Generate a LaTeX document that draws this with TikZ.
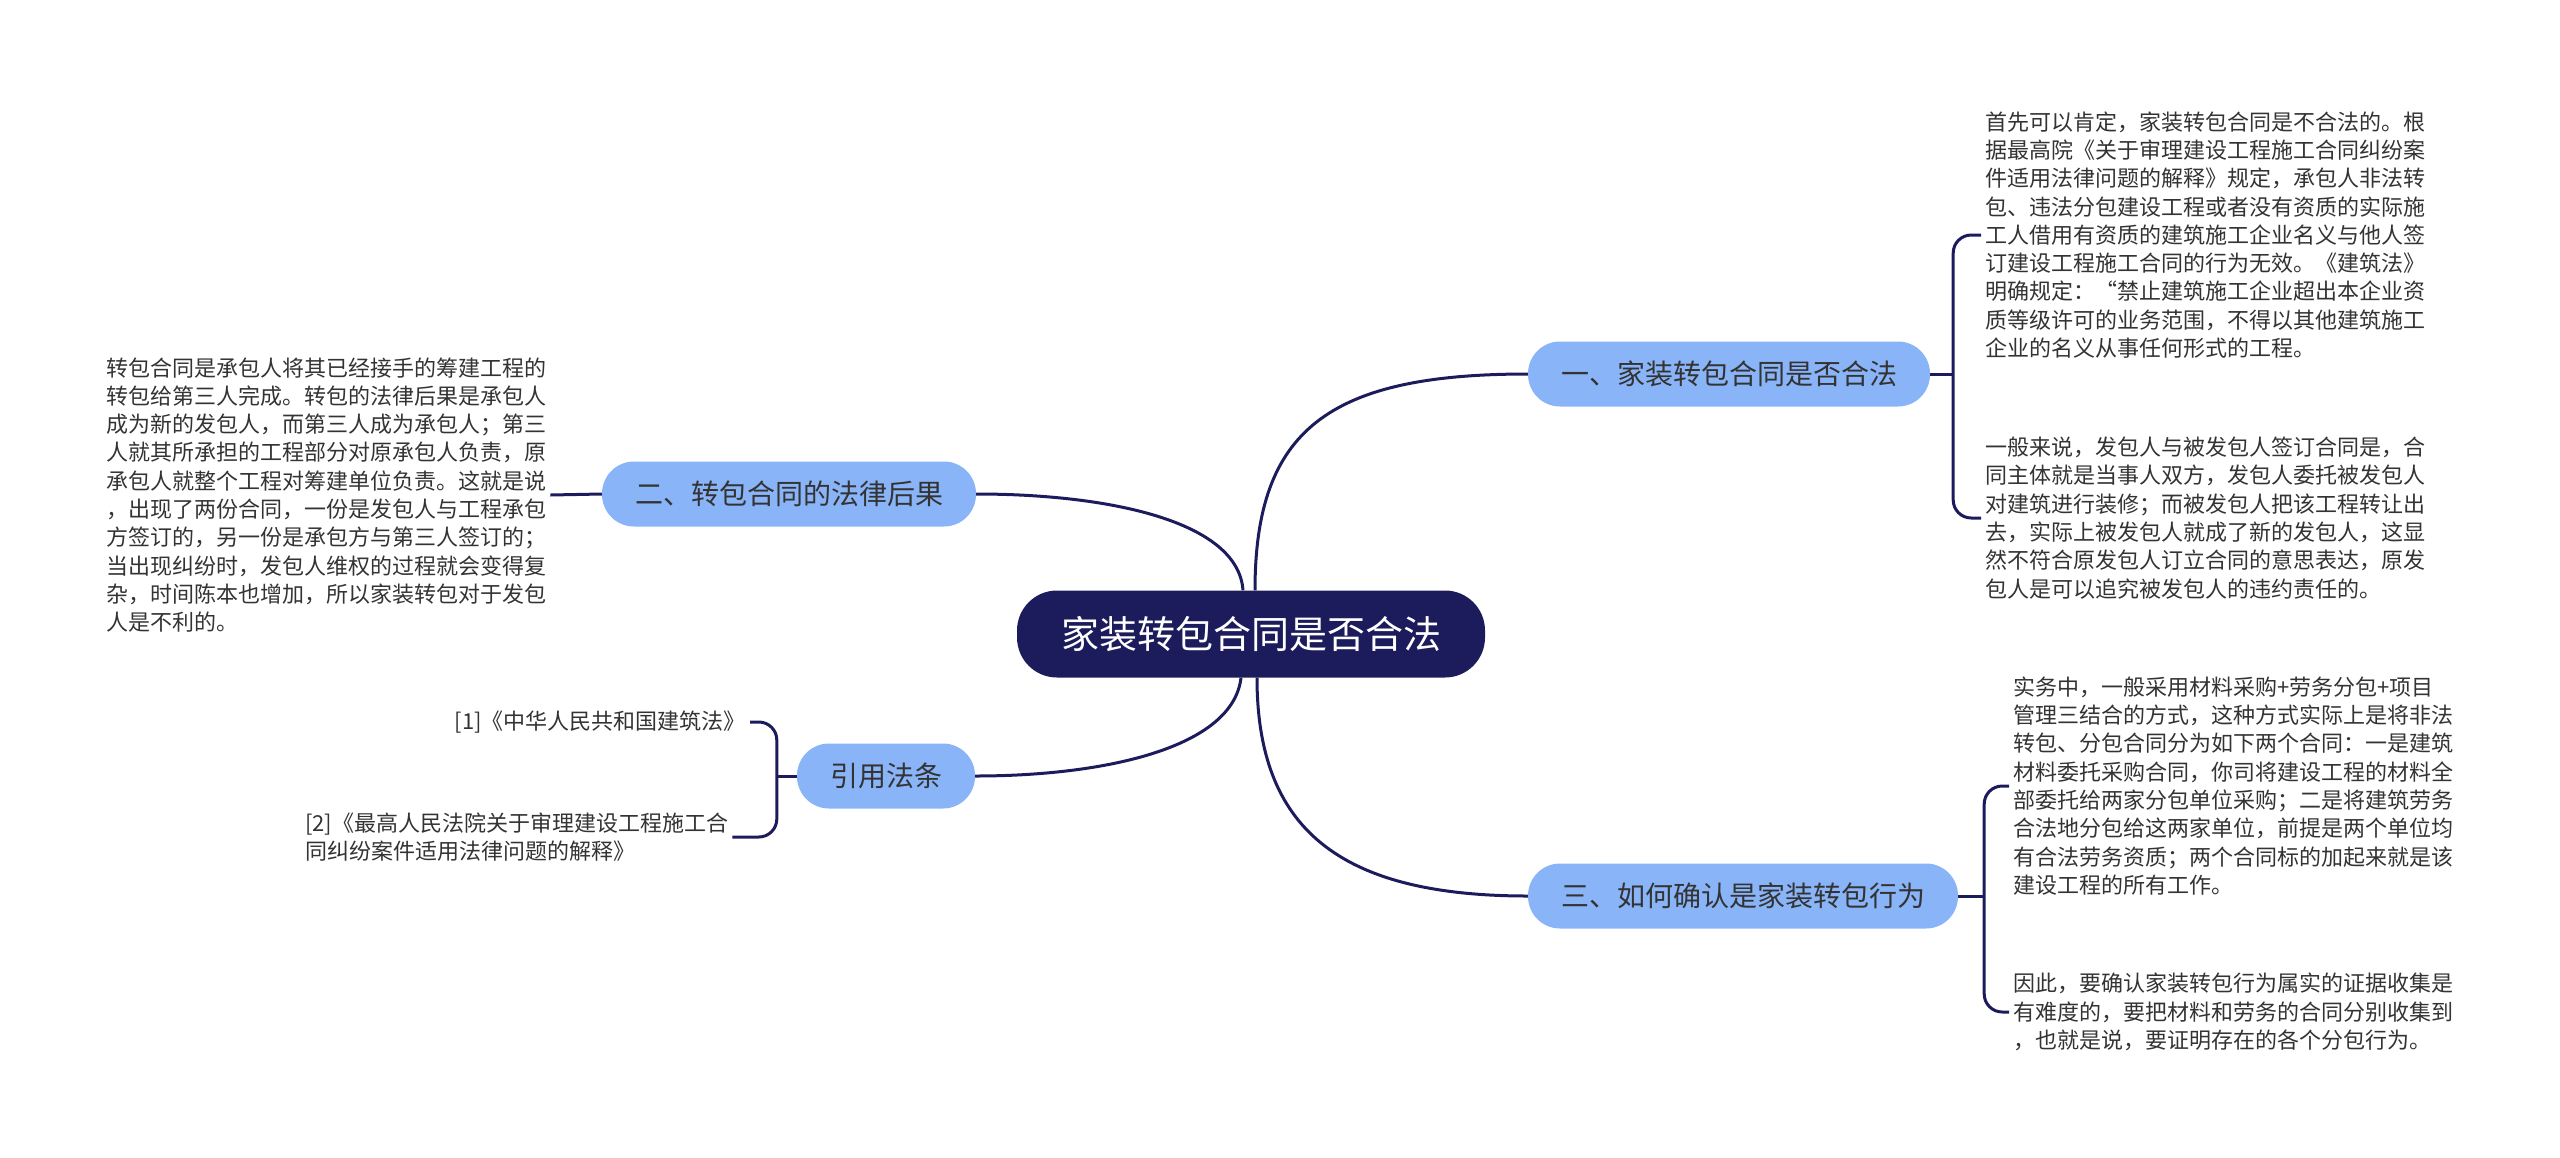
\documentclass[tikz,border=0pt]{standalone}
\usepackage{fontspec}
\setmainfont{Noto Sans CJK SC}
\usetikzlibrary{positioning}
\definecolor{cnavy}{HTML}{1C1B5C}
\definecolor{cbranch}{HTML}{8AB4F8}
\definecolor{ctext}{HTML}{333333}

\begin{document}
\begin{tikzpicture}[x=1pt,y=-1pt,
  rootnode/.style={fill=cnavy,text=white,rounded corners=40pt,minimum height=87pt,
                   inner xsep=44pt,font=\fontsize{38}{44}\selectfont},
  branchnode/.style={fill=cbranch,text=ctext,rounded corners=32pt,minimum height=65pt,
                     inner xsep=33pt,font=\fontsize{28}{34}\selectfont},
  leaftext/.style={text=ctext,align=left,inner xsep=4pt,inner ysep=0pt,
                   font=\fontsize{22}{28.3}\selectfont},
  link/.style={draw=cnavy,line width=3pt},
  fork/.style={draw=cnavy,line width=3pt,rounded corners=18pt}]
  \useasboundingbox (0,0) rectangle (2560,1157);
  % centre and main branches
  \node[rootnode] (root) at (1251,634) {家装转包合同是否合法};
  \node[branchnode] (b1) at (1729,374) {一、家装转包合同是否合法};
  \node[branchnode] (b2) at (789,494) {二、转包合同的法律后果};
  \node[branchnode] (b3) at (1743,896) {三、如何确认是家装转包行为};
  \node[branchnode] (b4) at (886,776) {引用法条};
  % leaf texts
  \node[leaftext,anchor=west] (t1a) at (1981,235) {首先可以肯定，家装转包合同是不合法的。根\\
    据最高院《关于审理建设工程施工合同纠纷案\\
    件适用法律问题的解释》规定，承包人非法转\\
    包、违法分包建设工程或者没有资质的实际施\\
    工人借用有资质的建筑施工企业名义与他人签\\
    订建设工程施工合同的行为无效。《建筑法》\\
    明确规定：“禁止建筑施工企业超出本企业资\\
    质等级许可的业务范围，不得以其他建筑施工\\
    企业的名义从事任何形式的工程。};
  \node[leaftext,anchor=west] (t1b) at (1981,518) {一般来说，发包人与被发包人签订合同是，合\\
    同主体就是当事人双方，发包人委托被发包人\\
    对建筑进行装修；而被发包人把该工程转让出\\
    去，实际上被发包人就成了新的发包人，这显\\
    然不符合原发包人订立合同的意思表达，原发\\
    包人是可以追究被发包人的违约责任的。};
  \node[leaftext,anchor=west] (t2) at (102,495) {转包合同是承包人将其已经接手的筹建工程的\\
    转包给第三人完成。转包的法律后果是承包人\\
    成为新的发包人，而第三人成为承包人；第三\\
    人就其所承担的工程部分对原承包人负责，原\\
    承包人就整个工程对筹建单位负责。这就是说\\
    ，出现了两份合同，一份是发包人与工程承包\\
    方签订的，另一份是承包方与第三人签订的；\\
    当出现纠纷时，发包人维权的过程就会变得复\\
    杂，时间陈本也增加，所以家装转包对于发包\\
    人是不利的。};
  \node[leaftext,anchor=west] (t3a) at (2009,786) {实务中，一般采用材料采购+劳务分包+项目\\
    管理三结合的方式，这种方式实际上是将非法\\
    转包、分包合同分为如下两个合同：一是建筑\\
    材料委托采购合同，你司将建设工程的材料全\\
    部委托给两家分包单位采购；二是将建筑劳务\\
    合法地分包给这两家单位，前提是两个单位均\\
    有合法劳务资质；两个合同标的加起来就是该\\
    建设工程的所有工作。};
  \node[leaftext,anchor=west] (t3b) at (2009,1012) {因此，要确认家装转包行为属实的证据收集是\\
    有难度的，要把材料和劳务的合同分别收集到\\
    ，也就是说，要证明存在的各个分包行为。};
  \node[leaftext,anchor=east] (r1) at (750,722) {[1]《中华人民共和国建筑法》};
  \node[leaftext,anchor=west] (r2) at (301,837) {[2]《最高人民法院关于审理建设工程施工合\\
    同纠纷案件适用法律问题的解释》};
  % curves from the centre
  \draw[link] ([xshift=4]root.north) .. controls +(0,-160) and +(-200,0) .. (b1.west);
  \draw[link] ([xshift=-8]root.north) .. controls +(-5,-70) and +(130,0) .. (b2.east);
  \draw[link] ([xshift=6]root.south) .. controls +(0,150) and +(-190,0) .. (b3.west);
  \draw[link] ([xshift=-10]root.south) .. controls +(-8,70) and +(130,0) .. (b4.east);
  % brackets to the leaves
  \coordinate (k1) at ([xshift=23]b1.east);
  \coordinate (k3) at ([xshift=26]b3.east);
  \coordinate (k4) at ([xshift=-20]b4.west);
  \draw[link] (b1.east) -- (k1);
  \draw[link] (b3.east) -- (k3);
  \draw[link] (b4.west) -- (k4);
  \draw[link] (b2.west) -- (t2.east);
  \foreach \k/\t in {k1/t1a.west,k1/t1b.west,k3/t3a.west,k3/t3b.west,k4/r1.east,k4/r2.east}
    \draw[fork] (\k) |- (\t);
\end{tikzpicture}
\end{document}
